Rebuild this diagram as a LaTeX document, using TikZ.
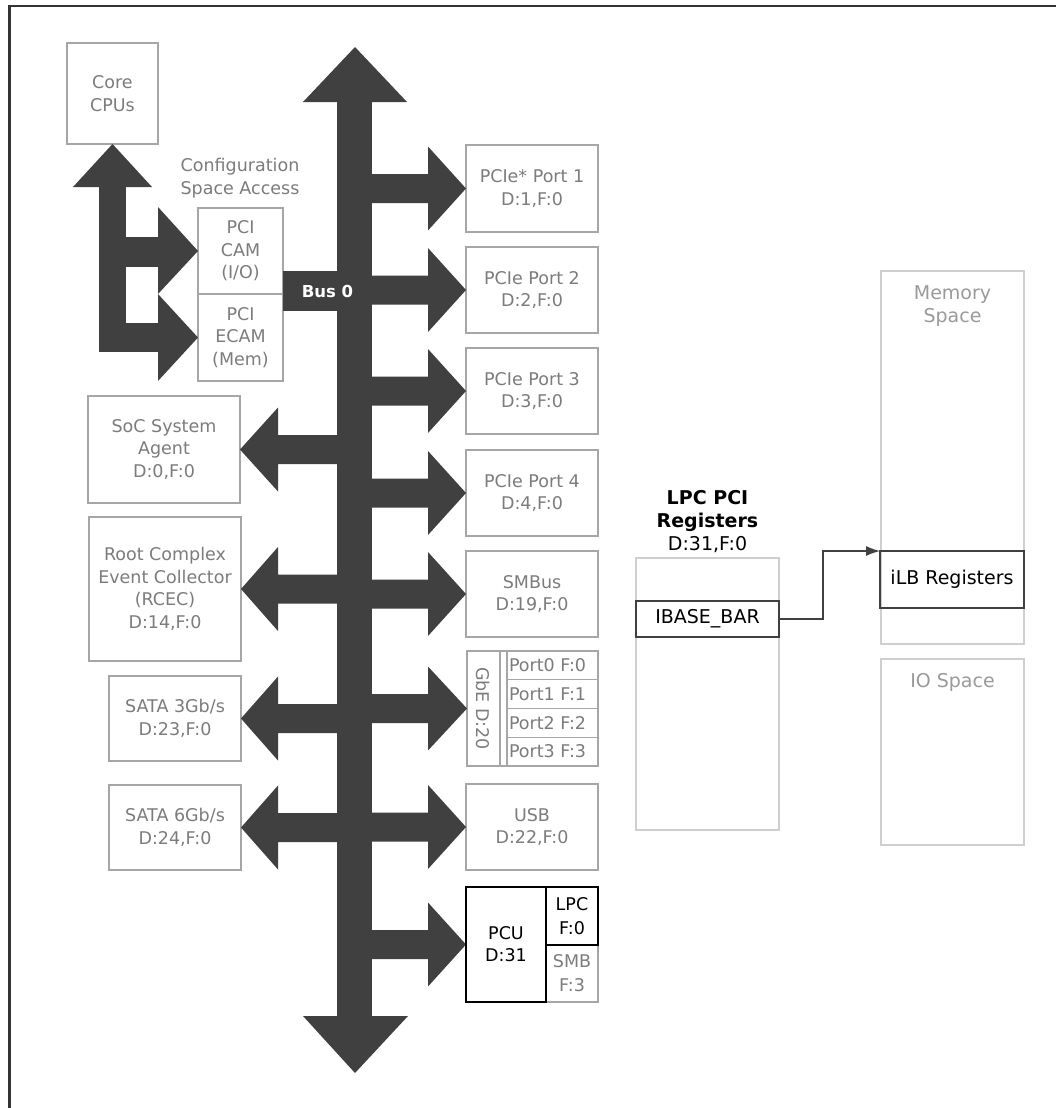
\documentclass[tikz,border=0pt]{standalone}
\usepackage{fontspec}
\setmainfont{DejaVu Sans}
\usetikzlibrary{arrows.meta}
\definecolor{busfill}{HTML}{404040}
\definecolor{boxgray}{HTML}{A6A6A6}
\definecolor{txtgray}{HTML}{7C7C7C}
\definecolor{lightbox}{HTML}{CFCFCF}
\definecolor{lighttxt}{HTML}{9A9A9A}
\definecolor{framecol}{HTML}{333333}
\definecolor{darkline}{HTML}{404040}
\newcommand\busright[2]{\fill[busfill] (370,#1-14.5) -- (428,#1-14.5) -- (428,#1-42) -- (#2.west) -- (428,#1+42) -- (428,#1+14.5) -- (370,#1+14.5) -- cycle;}
\newcommand\busleft[2]{\fill[busfill] (339,#1-14.5) -- (278,#1-14.5) -- (278,#1-42) -- (#2.east) -- (278,#1+42) -- (278,#1+14.5) -- (339,#1+14.5) -- cycle;}
\begin{document}
\begin{tikzpicture}[x=1pt,y=-1pt,
  every node/.style={font=\fontsize{17.5}{22.5}\selectfont, align=center, inner sep=0pt, outer sep=0pt},
  bigfont/.style={font=\fontsize{19}{23}\selectfont},
  gbox/.style={draw=boxgray, line width=1.3pt, text=txtgray},
  dbox/.style={draw=darkline, line width=1.3pt, text=black},
  lbox/.style={draw=lightbox, line width=1.3pt},
  gtext/.style={text=txtgray},
  ltext/.style={text=lighttxt},
  divline/.style={draw=boxgray, line width=1.3pt},
  kline/.style={draw=black, line width=1.3pt}
]
\useasboundingbox (0,0) rectangle (1055,1108);
\fill[white] (0,0) rectangle (1055,1108);
% frame
\draw[framecol, line width=2.5pt] (9.3,1110) -- (9.3,5.8) -- (1057,5.8);

% ---- boxes (left) ----
\node[gbox, minimum width=91pt, minimum height=101pt] (cpu) at (112.5,93.5) {Core\\CPUs};
\node[gbox, minimum width=85pt, minimum height=86pt] (cam) at (240.5,251) {PCI\\CAM\\(I/O)};
\node[gbox, minimum width=85pt, minimum height=87pt] (ecam) at (240.5,337.5) {PCI\\ECAM\\(Mem)};
\node[gtext] (cfg) at (240,178) {Configuration\\Space Access};
\node[gbox, minimum width=152pt, minimum height=107pt] (soc) at (164,449.5) {SoC System\\Agent\\D:0,F:0};
\node[gbox, minimum width=152pt, minimum height=144pt] (rcec) at (165,589) {Root Complex\\Event Collector\\(RCEC)\\D:14,F:0};
\node[gbox, minimum width=132pt, minimum height=85pt] (sata3) at (175,718.5) {SATA 3Gb/s\\D:23,F:0};
\node[gbox, minimum width=132pt, minimum height=85pt] (sata6) at (175,827.5) {SATA 6Gb/s\\D:24,F:0};

% ---- boxes (right of bus) ----
\node[gbox, minimum width=132pt, minimum height=87pt] (p1) at (532,188.5) {PCIe* Port 1\\D:1,F:0};
\node[gbox, minimum width=132pt, minimum height=86pt] (p2) at (532,290) {PCIe Port 2\\D:2,F:0};
\node[gbox, minimum width=132pt, minimum height=86pt] (p3) at (532,391) {PCIe Port 3\\D:3,F:0};
\node[gbox, minimum width=132pt, minimum height=86pt] (p4) at (532,493) {PCIe Port 4\\D:4,F:0};
\node[gbox, minimum width=132pt, minimum height=86pt] (smbus) at (532,594) {SMBus\\D:19,F:0};
\node[gbox, minimum width=131pt, minimum height=115pt] (gbe) at (532.5,708.5) {};
\node[gbox, minimum width=132pt, minimum height=86pt] (usb) at (532,827) {USB\\D:22,F:0};
\node[minimum width=132pt, minimum height=115pt] (pcu) at (532,944.5) {};

% ---- bus ----
\fill[busfill] (337,102) rectangle (372,1016);
\fill[busfill] (303,102) -- (355,47) -- (407,102) -- cycle;
\fill[busfill] (303,1016) -- (355,1073) -- (408,1016) -- cycle;
\fill[busfill] (cam.east |- 0,271) rectangle (338,311);
\node[text=white, font=\fontsize{16.5}{20}\selectfont\bfseries] (bus) at (327.5,291) {Bus 0};
\busright{188.5}{p1}
\busright{290}{p2}
\busright{391}{p3}
\busright{493}{p4}
\busright{594}{smbus}
\busright{708.5}{gbe}
\busright{827}{usb}
\busright{944.5}{pcu}
\busleft{449.5}{soc}
\busleft{589}{rcec}
\busleft{718.5}{sata3}
\busleft{827.5}{sata6}

% ---- configuration arrows ----
\fill[busfill] (99,187) rectangle (126,352);
\fill[busfill] (73,187) -- (cpu.south) -- (152,187) -- cycle;
\fill[busfill] (125,237) rectangle (158.5,267);
\fill[busfill] (158,207) -- (cam.west) -- (158,294) -- cycle;
\fill[busfill] (99,323) rectangle (158.5,352);
\fill[busfill] (158,294) -- (ecam.west) -- (158,381) -- cycle;

% ---- GbE detail ----
\draw[divline] (500,651) -- (500,766);
\draw[divline] (507,651) -- (507,766);
\draw[divline] (507,679.75) -- (598,679.75);
\draw[divline] (507,708.5) -- (598,708.5);
\draw[divline] (507,737.25) -- (598,737.25);
\node[gtext, rotate=-90] (gbet) at (483.5,708.5) {GbE D:20};
\node[gtext, anchor=west] (pt0) at (509,665.4) {Port0 F:0};
\node[gtext, anchor=west] (pt1) at (509,694.1) {Port1 F:1};
\node[gtext, anchor=west] (pt2) at (509,722.9) {Port2 F:2};
\node[gtext, anchor=west] (pt3) at (509,751.6) {Port3 F:3};

% ---- PCU detail ----
\draw[divline] (598,945) -- (598,1002) -- (546,1002);
\draw[kline] (pcu.north west) rectangle (546,1002);
\draw[kline] (546,887) rectangle (598,945);
\node[text=black] (pcut) at (506,944) {PCU\\D:31};
\node[text=black, font=\fontsize{17.5}{24.5}\selectfont] (lpct) at (572,916) {LPC\\F:0};
\node[gtext, font=\fontsize{17.5}{24.5}\selectfont] (smbt) at (572,973) {SMB\\F:3};

% ---- LPC registers and address spaces ----
\node[text=black, bigfont] (lpcreg) at (707.5,522) {\textbf{LPC PCI}\\\textbf{Registers}\\D:31,F:0};
\node[lbox, minimum width=143pt, minimum height=272pt] (lpcbox) at (707.5,694) {};
\node[dbox, bigfont, minimum width=143pt, minimum height=36pt] (ibase) at (707.5,619) {IBASE\_BAR};
\node[lbox, minimum width=143pt, minimum height=373pt] (mem) at (952.5,457.5) {};
\node[ltext, bigfont] (memt) at (952.5,306.5) {Memory\\Space};
\node[dbox, bigfont, minimum width=144pt, minimum height=57pt] (ilb) at (952,579.5) {iLB Registers};
\node[lbox, minimum width=143pt, minimum height=186pt] (io) at (952.5,752) {};
\node[ltext, bigfont] (iot) at (952.5,682) {IO Space};

\draw[darkline, line width=1.2pt, -{Latex[length=14pt,width=10pt]}] (ibase.east) -- (823,619) |- (ilb.north west);
\end{tikzpicture}
\end{document}
